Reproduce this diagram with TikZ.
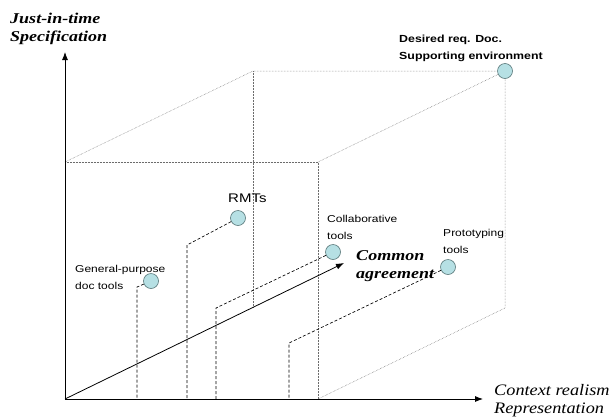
\documentclass[tikz,border=0pt]{standalone}
\usepackage{fontspec}
\setmainfont{Liberation Serif}
\setsansfont{Liberation Sans}
\usepackage{tikz}
\usetikzlibrary{arrows.meta}

\definecolor{bubble}{RGB}{182,224,228}
\definecolor{bubbleline}{RGB}{88,118,120}

\begin{document}
\begin{tikzpicture}[x=1pt, y=-1pt,
  axis/.style={draw, line width=0.8pt, -{Latex[length=8pt,width=6pt]}},
  cubeedge/.style={draw=gray!85!black, line width=0.5pt, densely dotted},
  leader/.style={draw, line width=0.65pt, dash pattern=on 3pt off 2pt},
  tool/.style={circle, draw=bubbleline, fill=bubble, line width=0.6pt, minimum size=15pt, inner sep=0pt},
  toollabel/.style={font=\sffamily\fontsize{10}{17}\selectfont, align=left, anchor=base west, inner sep=0pt, xscale=1.2},
  axislabel/.style={font=\itshape\fontsize{15}{18}\selectfont, align=left, anchor=base west, inner sep=0pt, xscale=1.2}]
  \useasboundingbox (0,0) rectangle (612,418) ;

  % corners of the box
  \coordinate (o) at (65,399) ; %
  \coordinate (ftl) at (65,162) ; %
  \coordinate (ftr) at (318,162) ; %
  \coordinate (fbr) at (318,399) ; %
  \coordinate (btl) at (253,71) ; %
  \coordinate (bbl) at (253,308) ; %
  \coordinate (bbr) at (505,308) ; %
  \coordinate (ytip) at (65,52) ; %
  \coordinate (xtip) at (483,399) ; %
  \coordinate (ztip) at (344,263) ; %

  % tools
  \node[tool] (desired) at (505,71) {} ; %
  \node[tool] (rmt) at (238,218) {} ; %
  \node[tool] (gp) at (151,281) {} ; %
  \node[tool] (collab) at (333,252) {} ; %
  \node[tool] (proto) at (448,267) {} ; %

  \coordinate (gpbend) at (137,287) ; %
  \coordinate (gpfoot) at (137,399) ; %
  \coordinate (rmtbend) at (187,245) ; %
  \coordinate (rmtfoot) at (187,399) ; %
  \coordinate (collabbend) at (216,308) ; %
  \coordinate (collabfoot) at (216,399) ; %
  \coordinate (protobend) at (289,343) ; %
  \coordinate (protofoot) at (289,399) ; %

  \draw[cubeedge] (ftl) -- (ftr) -- (fbr) ; %
  \draw[cubeedge] (ftl) -- (btl) -- (desired) ; %
  \draw[cubeedge] (ftr) -- (desired) -- (bbr) -- (fbr) ; %
  \draw[cubeedge] (btl) -- (bbl) ; %

  \draw[axis] (o) -- (ytip) ; %
  \draw[axis] (o) -- (xtip) ; %
  \draw[axis] (o) -- (ztip) ; %

  \draw[leader] (gp) -- (gpbend) -- (gpfoot) ; %
  \draw[leader] (rmt) -- (rmtbend) -- (rmtfoot) ; %
  \draw[leader] (collab) -- (collabbend) -- (collabfoot) ; %
  \draw[leader] (proto) -- (protobend) -- (protofoot) ; %

  % labels (base = last line, xscale adds up)
  \node[axislabel, font=\bfseries\itshape\fontsize{15}{18}\selectfont] (jit) at (10,41) {Just-in-time\\Specification} ; %
  \node[axislabel, font=\itshape\fontsize{16}{18}\selectfont, xscale=0.95] (ctx) at (494,413) {Context realism\\Representation} ; %
  \node[axislabel, font=\bfseries\itshape\fontsize{15}{18}\selectfont] (agree) at (356,278) {Common\\agreement} ; %
  \node[toollabel, font=\sffamily\bfseries\fontsize{10.3}{17}\selectfont] (desiredlbl) at (399,59) {Desired req. Doc.\\Supporting environment} ; %
  \node[toollabel, font=\sffamily\fontsize{12.5}{17}\selectfont] (rmtlbl) at (228,202) {RMTs} ; %
  \node[toollabel] (gplbl) at (75,289) {General-purpose\\doc tools} ; %
  \node[toollabel] (collablbl) at (327,239) {Collaborative\\tools} ; %
  \node[toollabel] (protolbl) at (443,253) {Prototyping\\tools} ; %

\end{tikzpicture}
\end{document}
